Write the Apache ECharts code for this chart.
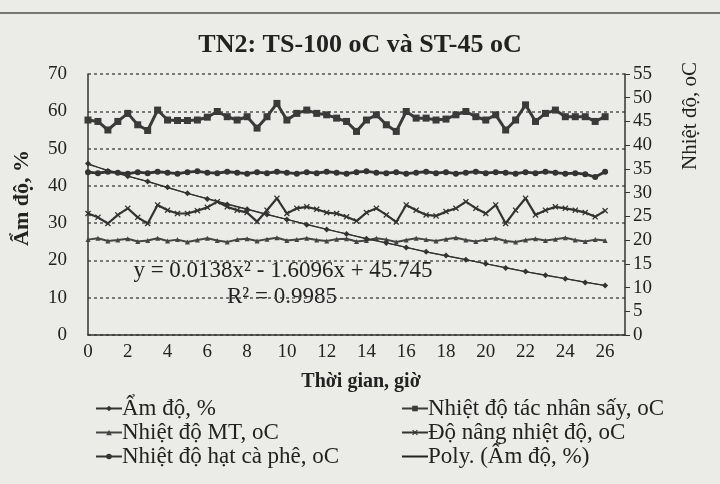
<!DOCTYPE html>
<html>
<head>
<meta charset="utf-8">
<script src="https://cdn.jsdelivr.net/npm/echarts@6/dist/echarts.min.js"></script>
<style>
  html, body { margin: 0; padding: 0; background: #ebebe8; }
  #chart { width: 720px; height: 484px; }
</style>
</head>
<body>
<div id="chart"></div>
<script>
// thoi gian (gio), moi 0.5 gio
const halfHours = [0, 0.5, 1, 1.5, 2, 2.5, 3, 3.5, 4, 4.5, 5, 5.5, 6, 6.5, 7, 7.5, 8, 8.5, 9, 9.5,
  10, 10.5, 11, 11.5, 12, 12.5, 13, 13.5, 14, 14.5, 15, 15.5, 16, 16.5, 17, 17.5, 18, 18.5, 19, 19.5,
  20, 20.5, 21, 21.5, 22, 22.5, 23, 23.5, 24, 24.5, 25, 25.5, 26];
// am do do moi gio
const hours = [0, 1, 2, 3, 4, 5, 6, 7, 8, 9, 10, 11, 12, 13, 14, 15, 16, 17, 18, 19, 20, 21, 22, 23, 24, 25, 26];

const amDo = [46.0, 44.0, 42.6, 41.2, 39.6, 38.0, 36.5, 35.0, 33.7, 32.3, 31.0, 29.6, 28.3, 27.1,
  25.8, 24.7, 23.5, 22.3, 21.3, 20.2, 19.1, 18.0, 17.0, 16.0, 15.1, 14.1, 13.3];
// duong xu huong (Poly.) doc tu hinh
const polyAmDo = [45.7, 44.2, 42.6, 41.1, 39.5, 38.0, 36.6, 35.2, 33.8, 32.4, 31.0, 29.7, 28.4, 27.1,
  25.9, 24.7, 23.5, 22.3, 21.2, 20.2, 19.1, 18.1, 17.0, 16.1, 15.1, 14.2, 13.2];

const tacNhanSay = [45.3, 45.0, 43.2, 45.0, 46.7, 44.3, 43.1, 47.4, 45.3, 45.2, 45.2, 45.3, 45.9, 47.1, 46.0, 45.3, 46.0,
  43.6, 46.0, 48.8, 45.3, 46.7, 47.4, 46.7, 46.4, 45.7, 45.0, 42.9, 45.3, 46.4, 44.3, 42.9, 47.1, 45.7,
  45.7, 45.3, 45.5, 46.4, 47.1, 46.0, 45.3, 46.4, 43.2, 45.3, 48.5, 45.0, 46.7, 47.4, 46.0, 46.0, 46.0, 45.0, 46.0];

const nhietDoMT = [20.1, 20.4, 19.8, 20.0, 20.3, 19.7, 19.9, 20.4, 19.8, 20.1, 19.6, 20.0, 20.4, 19.9, 19.6, 20.1, 20.3,
  19.8, 20.2, 20.5, 19.9, 20.1, 20.4, 20.0, 19.8, 20.2, 20.3, 19.7, 19.9, 20.4, 20.1, 19.6, 20.0, 20.4,
  20.1, 19.8, 20.2, 20.5, 20.0, 19.7, 20.1, 20.4, 19.8, 19.6, 20.0, 20.3, 19.9, 20.2, 20.5, 20.0, 19.7, 20.1, 19.9];

const doNang = [25.6, 24.8, 23.5, 25.3, 26.7, 24.8, 23.5, 27.4, 26.3, 25.6, 25.6, 26.2, 26.9, 28.1, 27.0, 26.3, 25.8,
  23.9, 26.3, 28.8, 25.6, 26.7, 27.0, 26.5, 25.8, 25.6, 24.9, 24.0, 25.8, 26.7, 25.3, 23.8, 27.4, 26.3,
  25.3, 25.1, 26.0, 26.7, 28.1, 26.7, 25.6, 27.4, 23.5, 26.3, 28.8, 25.3, 26.3, 27.0, 26.7, 26.3, 25.8, 24.9, 26.2];

const hatCaPhe = [34.3, 34.1, 34.4, 34.2, 34.0, 34.3, 34.1, 34.4, 34.2, 34.0, 34.3, 34.5, 34.2, 34.1, 34.4, 34.2, 34.0,
  34.3, 34.1, 34.4, 34.2, 34.0, 34.3, 34.1, 34.4, 34.2, 34.0, 34.3, 34.5, 34.2, 34.1, 34.3, 34.0, 34.2,
  34.4, 34.1, 34.3, 34.0, 34.2, 34.4, 34.1, 34.3, 34.2, 34.0, 34.3, 34.1, 34.4, 34.2, 34.0, 34.1, 33.9, 33.3, 34.4];

const pair = (xs, ys) => xs.map((x, i) => [x, ys[i]]);

const serif = "Liberation Serif";
const ink = "#222";
const xMark = "path://M0,1.5L1.5,0L5,3.5L8.5,0L10,1.5L6.5,5L10,8.5L8.5,10L5,6.5L1.5,10L0,8.5L3.5,5Z";
const legendText = { fontFamily: serif, fontSize: 23, color: ink, padding: [0, 0, 0, -5] };

let myChart = echarts.init(document.getElementById("chart"));
let option = {
  backgroundColor: "#ebebe8",
  animation: false,
  textStyle: { fontFamily: serif, color: ink },
  title: {
    text: "TN2: TS-100 oC và ST-45 oC",
    left: "center",
    top: 27,
    textStyle: { fontFamily: serif, fontSize: 26, fontWeight: "bold", color: ink }
  },
  grid: { left: 88, right: 95, top: 74, bottom: 149 },
  legend: [
    {
      orient: "vertical",
      left: 90,
      top: 392,
      itemWidth: 26,
      itemHeight: 7,
      itemGap: 1,
      textStyle: legendText,
      data: ["Ẩm độ, %", "Nhiệt độ MT, oC", "Nhiệt độ hạt cà phê, oC"]
    },
    {
      orient: "vertical",
      left: 396,
      top: 392,
      itemWidth: 26,
      itemHeight: 7,
      itemGap: 1,
      textStyle: legendText,
      data: [
        "Nhiệt độ tác nhân sấy, oC",
        "Độ nâng nhiệt độ, oC",
        { name: "Poly. (Ẩm độ, %)", itemStyle: { opacity: 0 } }
      ]
    }
  ],
  xAxis: {
    type: "value",
    min: 0,
    max: 27,
    interval: 2,
    axisLine: { show: true, lineStyle: { color: "#333", width: 1.5 } },
    axisTick: { show: false },
    splitLine: { show: false },
    axisLabel: { showMaxLabel: false, fontFamily: serif, fontSize: 19, color: ink, margin: 8 }
  },
  yAxis: [
    {
      type: "value",
      min: 0,
      max: 70,
      interval: 10,
      axisLine: { show: true, lineStyle: { color: "#333", width: 1.5 } },
      axisTick: { show: false },
      splitLine: { show: true, lineStyle: { color: "#555", type: [3, 3], width: 1.5 } },
      axisLabel: { fontFamily: serif, fontSize: 19, color: ink, margin: 21 }
    },
    {
      type: "value",
      min: 0,
      max: 55,
      interval: 5,
      position: "right",
      axisLine: { show: true, lineStyle: { color: "#333", width: 1.5 } },
      axisTick: { show: true, length: 5, lineStyle: { color: "#333" } },
      splitLine: { show: false },
      axisLabel: { fontFamily: serif, fontSize: 19, color: ink, margin: 8 }
    }
  ],
  series: [
    {
      name: "Ẩm độ, %",
      type: "line",
      yAxisIndex: 0,
      data: pair(hours, amDo),
      symbol: "diamond",
      symbolSize: 6,
      z: 5,
      lineStyle: { color: "#333", width: 1.2 },
      itemStyle: { color: "#333" }
    },
    {
      name: "Nhiệt độ tác nhân sấy, oC",
      type: "line",
      yAxisIndex: 1,
      data: pair(halfHours, tacNhanSay),
      symbol: "rect",
      symbolSize: 7,
      lineStyle: { color: "#3a3a3a", width: 3 },
      itemStyle: { color: "#3a3a3a" }
    },
    {
      name: "Nhiệt độ MT, oC",
      type: "line",
      yAxisIndex: 1,
      data: pair(halfHours, nhietDoMT),
      symbol: "triangle",
      symbolSize: 5,
      lineStyle: { color: "#444", width: 2 },
      itemStyle: { color: "#444" }
    },
    {
      name: "Độ nâng nhiệt độ, oC",
      type: "line",
      yAxisIndex: 1,
      data: pair(halfHours, doNang),
      symbol: xMark,
      symbolSize: 6,
      lineStyle: { color: "#333", width: 2.2 },
      itemStyle: { color: "#333" }
    },
    {
      name: "Nhiệt độ hạt cà phê, oC",
      type: "line",
      yAxisIndex: 1,
      data: pair(halfHours, hatCaPhe),
      symbol: "circle",
      symbolSize: 6,
      lineStyle: { color: "#333", width: 2.8 },
      itemStyle: { color: "#333" }
    },
    {
      name: "Poly. (Ẩm độ, %)",
      type: "line",
      yAxisIndex: 0,
      data: pair(hours, polyAmDo),
      smooth: true,
      showSymbol: false,
      symbol: "none",
      lineStyle: { color: "#222", width: 1 },
      itemStyle: { color: "#222" }
    }
  ],
  graphic: [
    {
      type: "line",
      shape: { x1: 0, y1: 13, x2: 720, y2: 13 },
      style: { stroke: "#777", lineWidth: 2 }
    },
    {
      type: "text",
      x: 22, y: 198,
      rotation: Math.PI / 2,
      style: { text: "Ẩm độ, %", fontFamily: serif, fontSize: 22, fontWeight: "bold", fill: ink, align: "center", verticalAlign: "middle" }
    },
    {
      type: "text",
      x: 690, y: 116,
      rotation: Math.PI / 2,
      style: { text: "Nhiệt độ, oC", fontFamily: serif, fontSize: 21, fill: ink, align: "center", verticalAlign: "middle" }
    },
    {
      type: "text",
      x: 361, y: 382,
      style: { text: "Thời gian, giờ", fontFamily: serif, fontSize: 20, fontWeight: "bold", fill: ink, align: "center", verticalAlign: "middle" }
    },
    {
      type: "text",
      x: 283, y: 271,
      style: { text: "y = 0.0138x² - 1.6096x + 45.745", fontFamily: serif, fontSize: 23, fill: ink, align: "center", verticalAlign: "middle" }
    },
    {
      type: "text",
      x: 282, y: 297,
      style: { text: "R² = 0.9985", fontFamily: serif, fontSize: 23, fill: ink, align: "center", verticalAlign: "middle" }
    }
  ]
};
myChart.setOption(option);
</script>
</body>
</html>
